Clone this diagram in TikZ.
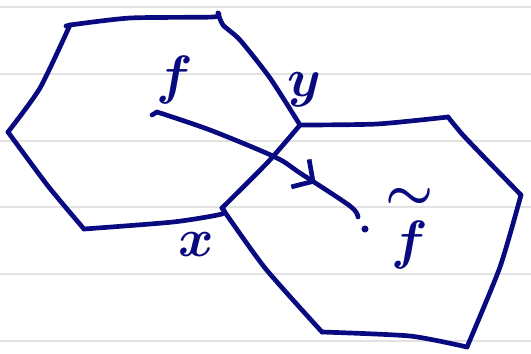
\documentclass[tikz,border=0pt]{standalone}
\usepackage{amsmath}
\usetikzlibrary{arrows.meta,decorations.markings}

\definecolor{ink}{RGB}{10,10,128}
\definecolor{rule}{RGB}{226,226,226}

\tikzset{
  pen/.style={draw=ink, line width=4pt, line cap=round, line join=round},
  ruling/.style={draw=rule, line width=1.6pt},
  lbl/.style={text=ink, inner sep=0pt, scale=1.85, font=\Huge\boldmath}
}

\begin{document}
\begin{tikzpicture}[x=0.03cm, y=-0.03cm]
  \useasboundingbox (0,0) rectangle (531,353);

  % Paper rulings
  \foreach \y in {7,74,141,207,274,341}
    \draw[ruling] (0,\y) -- (531,\y);

  % Left: hexagon f
  \coordinate (L1) at (8,132);
  \coordinate (L2) at (70,25);
  \coordinate (L3) at (218,13);
  \coordinate (L4) at (300,125);
  \coordinate (L5) at (222,208);
  \coordinate (L6) at (84,229);
  \draw[pen] plot[smooth, tension=0.4] coordinates {(L1) (40,88) (L2)};
  \draw[pen] (66,26) -- (L2);
  \draw[pen] plot[smooth, tension=0.4] coordinates {(L2) (130,18) (213,17) (L3)};
  \draw[pen] plot[smooth, tension=0.4] coordinates {(L3) (223,25) (240,40) (270,78) (L4)};
  \draw[pen] plot[smooth, tension=0.4] coordinates {(L4) (268,162) (L5)};
  \draw[pen] plot[smooth, tension=0.4] coordinates {(L5) (222,214) (173,222) (L6)};
  \draw[pen] plot[smooth, tension=0.4] coordinates {(L6) (48,186) (L1)};

  % Right: hexagon f~
  \coordinate (R1) at (448,117);
  \coordinate (R2) at (521,195);
  \coordinate (R3) at (467,347);
  \coordinate (R4) at (322,332);
  \draw[pen] plot[smooth, tension=0.4] coordinates {(L4) (377,124) (R1)};
  \draw[pen] plot[smooth, tension=0.4] coordinates {(R1) (462,134) (482,155) (R2)};
  \draw[pen] plot[smooth, tension=0.4] coordinates {(R2) (500,267) (R3)};
  \draw[pen] plot[smooth, tension=0.4] coordinates {(R3) (410,336) (R4)};
  \draw[pen] plot[smooth, tension=0.4] coordinates {(R4) (265,268) (L5)};

  % Labels
  \node[lbl] (lblf) at (175,80) {$f$};
  \node[lbl] (lbly) at (304,90) {$y$};
  \node[lbl] (lblx) at (196,245) {$x$};
  \node[lbl] (lblft) at (410,226) {$\overset{\displaystyle\boldsymbol{\sim}}{f}$};

  % Crossing path from f to f~
  \coordinate (fstart) at (157,112);
  \coordinate (fend) at (358,217);
  \node[circle, fill=ink, inner sep=0pt, minimum size=6pt] (tip) at (365,229) {};
  \draw[pen] (152,115) -- (fstart);
  \draw[pen, postaction={decorate}, decoration={markings,
      mark=at position 0.76 with {\arrow[ink, line width=4pt]{Straight Barb[length=13pt, width=28pt]}}}]
    plot[smooth, tension=0.5] coordinates {(fstart) (210,130) (275,157) (300,173) (350,206) (fend)};
\end{tikzpicture}
\end{document}
